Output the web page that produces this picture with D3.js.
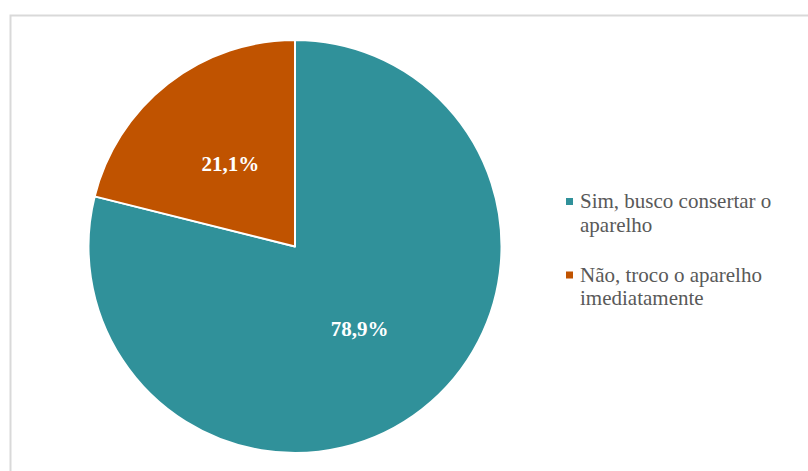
<!DOCTYPE html>
<html>
<head>
<meta charset="utf-8">
<script src="https://cdn.jsdelivr.net/npm/d3@7"></script>
<style>
  html, body { margin: 0; padding: 0; background: #ffffff; }
  svg { display: block; }
  text { font-family: 'Liberation Serif', 'Times New Roman', Times, serif; }
</style>
</head>
<body>
<svg id="chart" width="808" height="471"></svg>
<script>
// Answers and their shares (%)
const categories = ["Sim, busco consertar o aparelho", "Não, troco o aparelho imediatamente"];
const legendLines = [["Sim, busco consertar o", "aparelho"], ["Não, troco o aparelho", "imediatamente"]];
const values = [78.9, 21.1];
const valueLabels = ["78,9%", "21,1%"];
const colors = ["#30919a", "#c05300"];

const svg = d3.select("#chart");

// chart area frame (runs off the right and bottom edges)
svg.append("rect")
  .attr("x", 10.5).attr("y", 15.5)
  .attr("width", 820).attr("height", 480)
  .attr("fill", "#ffffff")
  .attr("stroke", "#d9d9d9")
  .attr("stroke-width", 2);

const cx = 295, cy = 246.5, R = 206.5;

const pie = d3.pie().sort(null).value(d => d.value);
const arcs = pie(categories.map((c, i) => ({ name: c, value: values[i], label: valueLabels[i] })));

const arc = d3.arc().innerRadius(0).outerRadius(R);
const labelArc = d3.arc().innerRadius(105).outerRadius(105);

const g = svg.append("g").attr("transform", `translate(${cx},${cy})`);

g.selectAll("path.slice")
  .data(arcs)
  .join("path")
  .attr("class", "slice")
  .attr("d", arc)
  .attr("fill", (d, i) => colors[i])
  .attr("stroke", "#ffffff")
  .attr("stroke-width", 2)
  .attr("stroke-linejoin", "round");

g.selectAll("text.value")
  .data(arcs)
  .join("text")
  .attr("class", "value")
  .attr("x", d => labelArc.centroid(d)[0])
  .attr("y", d => labelArc.centroid(d)[1] + 7)
  .attr("text-anchor", "middle")
  .style("font-weight", "bold")
  .style("font-size", "21px")
  .attr("fill", "#ffffff")
  .text(d => d.data.label);

// legend
const legend = svg.append("g").attr("transform", "translate(566,0)");
const entryY = [208, 281.5];
const lineH = 23.5;

categories.forEach((c, i) => {
  const e = legend.append("g").attr("transform", `translate(0,${entryY[i]})`);
  e.append("rect")
    .attr("x", 0).attr("y", -10)
    .attr("width", 7).attr("height", 7)
    .attr("fill", colors[i]);
  const t = e.append("text")
    .style("font-size", "21px")
    .attr("fill", "#595959");
  legendLines[i].forEach((ln, j) => {
    t.append("tspan").attr("x", 14).attr("y", j * lineH).text(ln);
  });
});
</script>
</body>
</html>
